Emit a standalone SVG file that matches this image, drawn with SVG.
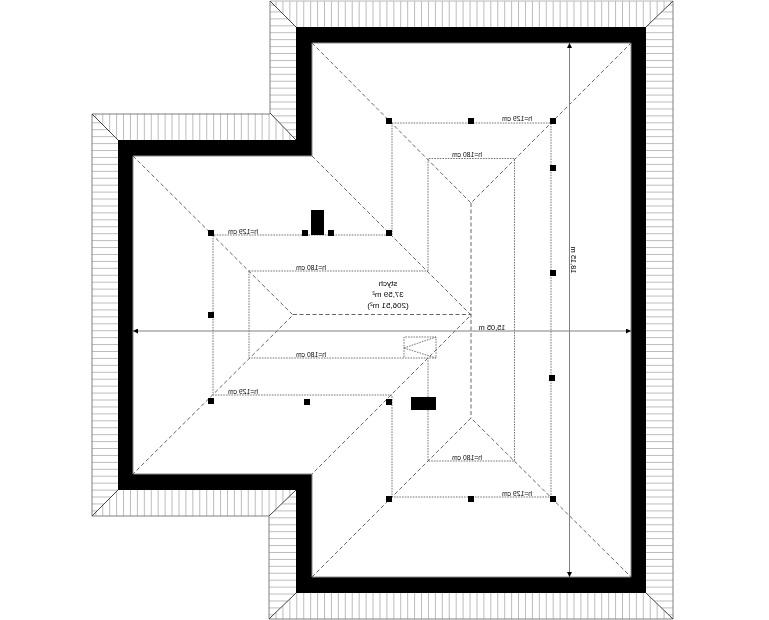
<svg xmlns="http://www.w3.org/2000/svg" width="769" height="620" viewBox="0 0 769 620">
<style>
.eave{stroke:#808080;stroke-width:1}
.v{fill:url(#hv)}
.h{fill:url(#hh)}
.hip{fill:none;stroke:#555;stroke-width:.9;stroke-dasharray:4 2.5}
.dot{fill:none;stroke:#666;stroke-width:.9;stroke-dasharray:1.6 1.1}
.diag{fill:none;stroke:#444;stroke-width:1}
.dim{fill:none;stroke:#808080;stroke-width:1;marker-start:url(#ar);marker-end:url(#ar)}
#labels{opacity:.995}
text{font-family:"Liberation Sans",Arial,sans-serif;fill:#000;text-anchor:middle}
.s{font-size:6.8px}
.m{font-size:7.4px}
.c{font-size:8px}
</style>
<defs>
<pattern id="hv" patternUnits="userSpaceOnUse" x="275.5" y="0" width="6.93" height="10"><rect width="1" height="10" fill="#bcbcbc"/></pattern>
<pattern id="hh" patternUnits="userSpaceOnUse" x="0" y="4.5" width="10" height="6.93"><rect width="10" height="1" fill="#bcbcbc"/></pattern>
<marker id="ar" viewBox="0 0 6 6" refX="6" refY="3" markerWidth="5" markerHeight="5" markerUnits="userSpaceOnUse" orient="auto-start-reverse"><path d="M0 0L6 3L0 6Z" fill="#000"/></marker>
</defs>
<rect width="769" height="620" fill="#fff"/>
<g id="eaves">
<polygon class="v" points="270,1 673,1 646,27 296,27"/>
<polygon class="h" points="673,1 673,619 646,593 646,27"/>
<polygon class="v" points="269,619 673,619 646,593 296,593"/>
<polygon class="h" points="270,1 296,27 296,140 270,113"/>
<polygon class="v" points="92,114 270,113 296,140 118,140"/>
<polygon class="h" points="92,114 118,140 118,490 92,516"/>
<polygon class="v" points="92,516 118,490 296,490 269,516"/>
<polygon class="h" points="269,516 296,490 296,593 269,619"/>
<path class="eave" fill="none" d="M270 113V1M673 1V619H269V516H92V114H270"/>
<path fill="none" stroke="#b8b8b8" d="M270 1H673"/>
<path class="diag" d="M270 1L296 27M673 1L646 27M673 619L646 593M269 619L296 593M270 113L296 140M92 114L118 140M92 516L118 490M269 516L296 490"/>
</g>
<path id="wall" fill="#000" fill-rule="evenodd" d="M296 27H646V593H296V490H118V140H296ZM312 43V156H133V474H312V577H631V43Z"/>
<path id="inner-edge" fill="none" stroke="#8a8a8a" stroke-width="1" d="M312 43H631V577H312V474H133V156H312Z"/>
<g id="roof-lines">
<path class="hip" d="M312 43L471 203L631 43M312 577L471 418L631 577M133 156L293 315L133 474M312 156L471 315L312 474M293 314.5H471M471 203V418"/>
<path class="dot" d="M392 123H551V497H392V395H213V235H392ZM428 271V158.500H514.500V461H428V410M428 397V358M249 271H428M249 271V358H436V337H404V358M404 348L436 337M404 348L436 358"/>
</g>
<g id="dimensions">
<path class="dim" d="M133 331H631"/>
<path class="dim" d="M569.500 43V577"/>
</g>
<g id="solids" fill="#000">
<rect x="311" y="210" width="13" height="25"/>
<rect x="411" y="397" width="25" height="13"/>
<rect x="386" y="118" width="6" height="6"/>
<rect x="468" y="118" width="6" height="6"/>
<rect x="550" y="118" width="6" height="6"/>
<rect x="550" y="165" width="6" height="6"/>
<rect x="550" y="270" width="6" height="6"/>
<rect x="549" y="375" width="6" height="6"/>
<rect x="550" y="496" width="6" height="6"/>
<rect x="468" y="496" width="6" height="6"/>
<rect x="386" y="496" width="6" height="6"/>
<rect x="386" y="399" width="6" height="6"/>
<rect x="304" y="399" width="6" height="6"/>
<rect x="208" y="398" width="6" height="6"/>
<rect x="208" y="312" width="6" height="6"/>
<rect x="208" y="230" width="6" height="6"/>
<rect x="302" y="230" width="6" height="6"/>
<rect x="328" y="230" width="6" height="6"/>
<rect x="386" y="230" width="6" height="6"/>
</g>
<g id="labels">
<text class="s" transform="translate(517 121) scale(-1 1)">h=129 cm</text>
<text class="s" transform="translate(467 157) scale(-1 1)">h=180 cm</text>
<text class="s" transform="translate(467 460) scale(-1 1)">h=180 cm</text>
<text class="s" transform="translate(517 496) scale(-1 1)">h=129 cm</text>
<text class="s" transform="translate(243 234) scale(-1 1)">h=129 cm</text>
<text class="s" transform="translate(311 270) scale(-1 1)">h=180 cm</text>
<text class="s" transform="translate(311 357) scale(-1 1)">h=180 cm</text>
<text class="s" transform="translate(243 394) scale(-1 1)">h=129 cm</text>
<text class="m" transform="translate(492 330) scale(-1 1)">15,05 m</text>
<text class="m" transform="translate(571 260) scale(-1 1) rotate(-90)">18,15 m</text>
<text class="c" transform="translate(388 286) scale(-1 1)">stych</text>
<text class="c" transform="translate(388 296.500) scale(-1 1)">37,59 m²</text>
<text class="c" transform="translate(388 307.500) scale(-1 1)">(206,51 m²)</text>
</g>
</svg>
